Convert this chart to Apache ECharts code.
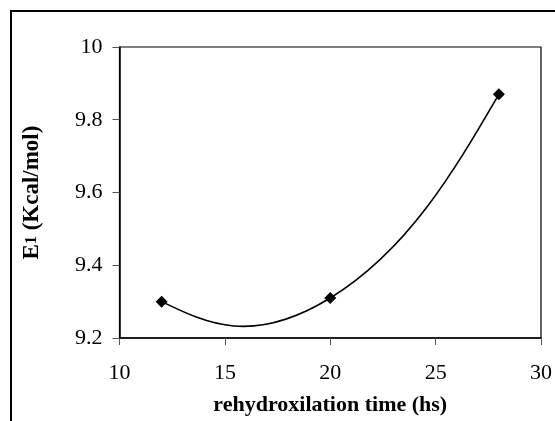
<!DOCTYPE html>
<html>
<head>
<meta charset="utf-8">
<script src="https://cdn.jsdelivr.net/npm/echarts@6/dist/echarts.min.js"></script>
<style>
  html, body { margin: 0; padding: 0; background: #fff; }
  #chart { width: 555px; height: 421px; }
</style>
</head>
<body>
<div id="chart"></div>
<script>
// rehydroxilation time (hs) vs E1 (Kcal/mol)
const timeHours = [12, 20, 28]
const energyValues = [9.30, 9.31, 9.87]
const xTicks = [10, 15, 20, 25, 30]
const yTicks = [9.2, 9.4, 9.6, 9.8, 10]

const seriesData = timeHours.map((t, i) => [t, energyValues[i]])

const chart = echarts.init(document.getElementById('chart'))

const serif = '"Liberation Serif", "Times New Roman", serif'
const TENSION = 0.23

// Excel-like smoothed line: one cubic bezier per segment, natural ends
function renderSegment(params, api) {
  const i = params.dataIndex
  if (i >= seriesData.length - 1) return null
  const pts = seriesData.map(d => api.coord(d))
  const p0 = pts[i]
  const p1 = pts[i + 1]
  const tangent = j => {
    const a = pts[j - 1], b = pts[j + 1]
    return [TENSION * (b[0] - a[0]), TENSION * (b[1] - a[1])]
  }
  let c1 = null, c2 = null
  if (i > 0) {
    const t = tangent(i)
    c1 = [p0[0] + t[0], p0[1] + t[1]]
  }
  if (i + 1 < pts.length - 1) {
    const t = tangent(i + 1)
    c2 = [p1[0] - t[0], p1[1] - t[1]]
  }
  if (!c1 && !c2) {
    c1 = p0; c2 = p1
  } else if (!c1) {
    c1 = [(p0[0] + c2[0]) / 2, (p0[1] + c2[1]) / 2]
  } else if (!c2) {
    c2 = [(p1[0] + c1[0]) / 2, (p1[1] + c1[1]) / 2]
  }
  return {
    type: 'bezierCurve',
    shape: {
      x1: p0[0], y1: p0[1], x2: p1[0], y2: p1[1],
      cpx1: c1[0], cpy1: c1[1], cpx2: c2[0], cpy2: c2[1]
    },
    style: { fill: 'none', stroke: '#000', lineWidth: 1.6 },
    silent: true
  }
}

const option = {
  animation: false,
  backgroundColor: '#fff',
  textStyle: { fontFamily: serif },
  graphic: [
    {
      type: 'rect',
      shape: { x: 11, y: 11, width: 600, height: 500 },
      style: { fill: 'none', stroke: '#000', lineWidth: 2 },
      silent: true
    }
  ],
  grid: {
    left: 119.5,
    top: 47,
    right: 8,
    bottom: 82,
    show: true,
    borderColor: '#000',
    borderWidth: 1.2
  },
  xAxis: {
    type: 'value',
    min: xTicks[0],
    max: xTicks[xTicks.length - 1],
    interval: 5,
    name: 'rehydroxilation time (hs)',
    nameLocation: 'middle',
    nameGap: 56,
    nameTextStyle: { fontFamily: serif, fontSize: 22, fontWeight: 'bold', color: '#000' },
    axisLine: { show: true, lineStyle: { color: '#000', width: 1.5 } },
    axisTick: { show: true, inside: false, length: 7, lineStyle: { color: '#555', width: 1 } },
    axisLabel: { fontFamily: serif, fontSize: 22, color: '#000', margin: 24 },
    splitLine: { show: false }
  },
  yAxis: {
    type: 'value',
    min: yTicks[0],
    max: yTicks[yTicks.length - 1],
    interval: 0.2,
    name: 'E{sub|1} (Kcal/mol)',
    nameLocation: 'middle',
    nameGap: 76,
    nameRotate: 90,
    nameTextStyle: {
      fontFamily: serif, fontSize: 23, fontWeight: 'bold', color: '#000',
      rich: {
        sub: { fontFamily: serif, fontSize: 16, fontWeight: 'bold', color: '#000' }
      }
    },
    axisLine: { show: true, lineStyle: { color: '#000', width: 1.5 } },
    axisTick: { show: true, inside: false, length: 7, lineStyle: { color: '#555', width: 1 } },
    axisLabel: {
      fontFamily: serif, fontSize: 22, color: '#000', margin: 17,
      formatter: v => String(Number(v.toFixed(1)))
    },
    splitLine: { show: false }
  },
  series: [
    {
      type: 'custom',
      data: seriesData,
      renderItem: renderSegment,
      z: 2
    },
    {
      type: 'scatter',
      data: seriesData,
      symbol: 'diamond',
      symbolSize: 12,
      itemStyle: { color: '#000', opacity: 1 },
      z: 3
    }
  ]
}

chart.setOption(option)
</script>
</body>
</html>
